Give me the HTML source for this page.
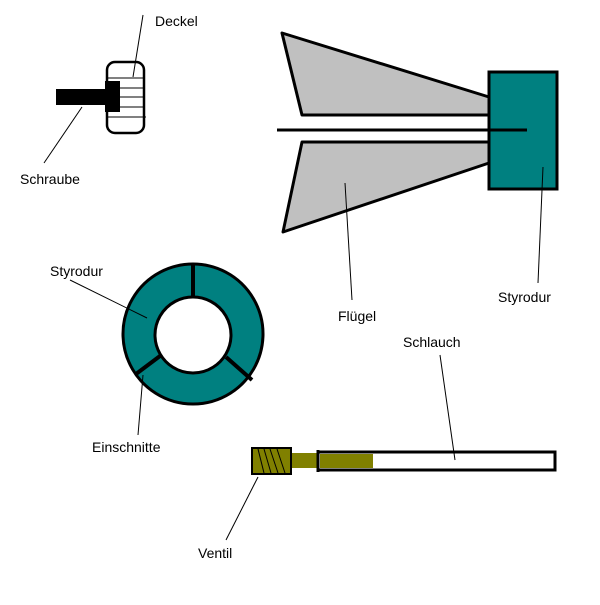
<!DOCTYPE html>
<html><head><style>
body{margin:0;background:#fff;}
svg text{font-family:"Liberation Sans",Arial,sans-serif;font-size:14px;fill:#000;}
</style></head><body>
<svg width="600" height="600" viewBox="0 0 600 600" xmlns="http://www.w3.org/2000/svg">
<rect width="600" height="600" fill="#fff"/>
<!-- Deckel -->
<rect x="107" y="62" width="37" height="71" rx="8" fill="#fff" stroke="#000" stroke-width="2.5"/>
<g stroke="#000" stroke-width="1">
<line x1="108" y1="78" x2="144" y2="78"/><line x1="108" y1="88" x2="144" y2="88"/>
<line x1="108" y1="97" x2="144" y2="97"/><line x1="108" y1="107" x2="144" y2="107"/>
<line x1="108" y1="117" x2="146" y2="117"/>
</g>
<rect x="56" y="89" width="52" height="16" fill="#000"/>
<rect x="105" y="81" width="15" height="31" fill="#000"/>
<line x1="143" y1="15" x2="133" y2="77" stroke="#000" stroke-width="1"/>
<line x1="82" y1="107" x2="44" y2="163" stroke="#000" stroke-width="1"/>
<text x="155" y="26">Deckel</text>
<text x="20" y="184">Schraube</text>
<!-- Wings -->
<polygon points="282,33 489,97 489,115 302,115" fill="#c0c0c0" stroke="#000" stroke-width="3" stroke-linejoin="round"/>
<polygon points="302,142 489,142 489,163 283,232" fill="#c0c0c0" stroke="#000" stroke-width="3" stroke-linejoin="round"/>
<rect x="489" y="72" width="68" height="117" fill="#008080" stroke="#000" stroke-width="3"/>
<line x1="277" y1="130" x2="527" y2="130" stroke="#000" stroke-width="3"/>
<line x1="345" y1="183" x2="352" y2="300" stroke="#000" stroke-width="1"/>
<line x1="543" y1="167" x2="538" y2="283" stroke="#000" stroke-width="1"/>
<text x="338" y="321">Flügel</text>
<text x="498" y="302">Styrodur</text>
<!-- Ring -->
<path d="M193,264 a70,70 0 1,0 0.01,0 Z M193,297 a38,38 0 1,1 -0.01,0 Z" fill="#008080" fill-rule="evenodd" stroke="#000" stroke-width="3"/>
<g stroke="#000" stroke-width="4">
<line x1="193" y1="263" x2="193" y2="297"/>
<line x1="160" y1="356" x2="136" y2="374"/>
<line x1="226" y1="357" x2="252" y2="380"/>
</g>
<line x1="70" y1="280" x2="147" y2="318" stroke="#000" stroke-width="1"/>
<line x1="143" y1="375" x2="138" y2="435" stroke="#000" stroke-width="1"/>
<text x="50" y="276">Styrodur</text>
<text x="92" y="452">Einschnitte</text>
<!-- Valve / tube -->
<rect x="318" y="452" width="237" height="18" fill="#fff" stroke="#000" stroke-width="3"/>
<rect x="320" y="454" width="53" height="14" fill="#808000"/>
<rect x="291" y="453" width="27" height="15" fill="#808000"/>
<line x1="318" y1="450" x2="318" y2="472" stroke="#000" stroke-width="3"/>
<rect x="252" y="448" width="39" height="26" fill="#808000" stroke="#000" stroke-width="2"/>
<g stroke="#000" stroke-width="1">
<line x1="258" y1="449" x2="264" y2="473"/><line x1="264" y1="449" x2="271" y2="473"/>
<line x1="270" y1="449" x2="278" y2="473"/><line x1="277" y1="449" x2="285" y2="473"/>
</g>
<line x1="440" y1="355" x2="455" y2="460" stroke="#000" stroke-width="1"/>
<line x1="258" y1="477" x2="226" y2="540" stroke="#000" stroke-width="1"/>
<text x="403" y="347">Schlauch</text>
<text x="198" y="558">Ventil</text>
</svg>
</body></html>
